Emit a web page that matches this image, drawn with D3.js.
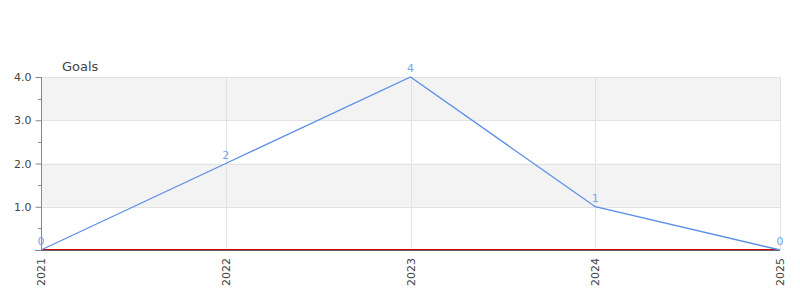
<!DOCTYPE html>
<html><head><meta charset="utf-8">
<script src="https://cdn.jsdelivr.net/npm/d3@7"></script>
<style>body{margin:0;background:#fff;font-family:"DejaVu Sans",sans-serif}</style>
</head><body><svg id="c" width="800" height="300"></svg>
<script>
const years = ["2021","2022","2023","2024","2025"];
const goals = [0,2,4,1,0];
const yTicks = [1,2,3,4];
const seriesTitle = "Goals";

const svg = d3.select("#c");
const m = {l:41, r:780, t:77, b:250};
const x = d3.scalePoint().domain(years).range([m.l, m.r]);
const y = d3.scaleLinear().domain([0,4]).range([m.b, m.t]);

// bands
[[3,4],[1,2]].forEach(([a,b])=>{
  svg.append("rect").attr("x",m.l).attr("width",m.r-m.l)
    .attr("y",y(b)).attr("height",y(a)-y(b)).attr("fill","#f3f3f3");
});
// horizontal grid
svg.append("g").selectAll("line").data(yTicks).join("line")
  .attr("x1",m.l).attr("x2",m.r).attr("y1",d=>Math.round(y(d))+0.5).attr("y2",d=>Math.round(y(d))+0.5)
  .attr("stroke","#e2e2e2");
// vertical grid
svg.append("g").selectAll("line").data(years.slice(1)).join("line")
  .attr("x1",d=>Math.round(x(d))+0.5).attr("x2",d=>Math.round(x(d))+0.5).attr("y1",m.t).attr("y2",m.b)
  .attr("stroke","#e2e2e2");

// y axis
const ya = svg.append("g").attr("transform",`translate(${m.l+0.5},0)`)
  .call(d3.axisLeft(y).tickValues(yTicks).tickFormat(d3.format(".1f")).tickSize(6).tickPadding(4));
ya.select(".domain").remove();
ya.selectAll("line").attr("stroke","#888");
ya.selectAll("text").attr("fill","#444").attr("font-size","11px").attr("font-family","DejaVu Sans");
// minor ticks
svg.append("g").selectAll("line").data([0.5,1.5,2.5,3.5]).join("line")
  .attr("x1",m.l-3).attr("x2",m.l).attr("y1",d=>Math.round(y(d))+0.5).attr("y2",d=>Math.round(y(d))+0.5)
  .attr("stroke","#888");
svg.append("line").attr("x1",m.l-6).attr("x2",m.l).attr("y1",m.b+0.5).attr("y2",m.b+0.5).attr("stroke","#888");
svg.append("line").attr("x1",m.l+0.5).attr("x2",m.l+0.5).attr("y1",m.t).attr("y2",m.b+1).attr("stroke","#888");

// x axis
svg.append("line").attr("x1",m.l).attr("x2",m.r).attr("y1",m.b+0.5).attr("y2",m.b+0.5).attr("stroke","#666");
svg.append("line").attr("x1",m.l).attr("x2",m.r).attr("y1",m.b-0.5).attr("y2",m.b-0.5).attr("stroke","#cc0000");
svg.append("g").selectAll("text").data(years).join("text")
  .attr("transform",d=>`translate(${x(d)+4},${m.b+8}) rotate(-90)`)
  .attr("text-anchor","end").attr("fill","#444").attr("font-size","11px")
  .text(d=>d);

// title
svg.append("text").attr("x",62).attr("y",71).attr("fill","#444").attr("font-size","13px").text(seriesTitle);

// line
const line = d3.line().x((d,i)=>x(years[i])).y(d=>y(d));
svg.append("path").datum(goals).attr("d",line).attr("fill","none").attr("stroke","#5a8ee8").attr("stroke-width",1.3);
// labels
svg.append("g").selectAll("text").data(goals).join("text")
  .attr("x",(d,i)=>x(years[i])).attr("y",d=>y(d)-5)
  .attr("text-anchor","middle").attr("fill","#7aa3ec").attr("font-size","11px")
  .text(d=>d);
</script></body></html>
